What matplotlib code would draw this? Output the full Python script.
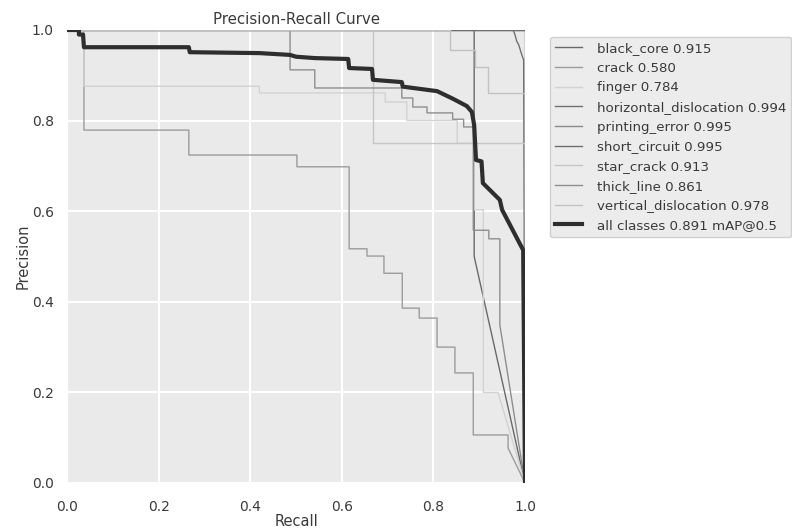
import matplotlib
matplotlib.use("Agg")
import matplotlib.pyplot as plt

# ---- data (recall / precision breakpoints) ----
class_names = ["black_core", "crack", "finger", "horizontal_dislocation",
               "printing_error", "short_circuit", "star_crack", "thick_line",
               "vertical_dislocation"]
class_ap = [0.915, 0.580, 0.784, 0.994, 0.995, 0.995, 0.913, 0.861, 0.978]

black_core_r = [0, 0.889, 0.889, 1.0]
black_core_p = [1, 1, 0.50, 0.0]

crack_r = [0, 0.037, 0.037, 0.266, 0.266, 0.502, 0.502, 0.616, 0.616, 0.655, 0.655,
           0.692, 0.692, 0.732, 0.732, 0.769, 0.769, 0.808, 0.808, 0.847, 0.847,
           0.887, 0.887, 0.963, 0.963, 1.0]
crack_p = [1, 1, 0.779, 0.779, 0.724, 0.724, 0.698, 0.698, 0.517, 0.517, 0.501,
           0.501, 0.463, 0.463, 0.386, 0.386, 0.364, 0.364, 0.300, 0.300, 0.243,
           0.243, 0.106, 0.106, 0.077, 0.0]

finger_r = [0, 0.037, 0.037, 0.42, 0.42, 0.695, 0.695, 0.742, 0.742, 0.852, 0.852,
            0.889, 0.889, 0.909, 0.909, 0.941, 1.0]
finger_p = [1, 1, 0.876, 0.876, 0.861, 0.861, 0.841, 0.841, 0.80, 0.80, 0.75,
            0.75, 0.603, 0.603, 0.20, 0.20, 0.0]

horizontal_dislocation_r = [0, 0.974, 0.978, 0.982, 0.986, 0.990, 0.994, 0.997, 1.0]
horizontal_dislocation_p = [1, 1, 0.99, 0.975, 0.968, 0.955, 0.942, 0.934, 0.0]

printing_error_r = [0, 1.0, 1.0]
printing_error_p = [1, 1, 0.0]

short_circuit_r = [0, 1.0, 1.0]
short_circuit_p = [1, 1, 0.0]

star_crack_r = [0, 0.668, 0.668, 1.0, 1.0]
star_crack_p = [1, 1, 0.751, 0.751, 0.0]

thick_line_r = [0, 0.487, 0.487, 0.541, 0.541, 0.731, 0.731, 0.755, 0.755, 0.786,
                0.786, 0.842, 0.842, 0.866, 0.866, 0.887, 0.887, 0.921, 0.921,
                0.945, 0.945, 1.0]
thick_line_p = [1, 1, 0.912, 0.912, 0.872, 0.872, 0.85, 0.85, 0.83, 0.83, 0.817,
                0.817, 0.803, 0.803, 0.786, 0.786, 0.558, 0.558, 0.539, 0.539,
                0.349, 0.0]

vertical_dislocation_r = [0, 0.836, 0.836, 0.89, 0.89, 0.919, 0.919, 1.0, 1.0]
vertical_dislocation_p = [1, 1, 0.956, 0.956, 0.918, 0.918, 0.861, 0.861, 0.0]

all_r = [0, 0.026, 0.026, 0.035, 0.037, 0.266, 0.268, 0.42, 0.487, 0.50, 0.541,
         0.614, 0.616, 0.666, 0.668, 0.731, 0.733, 0.808, 0.843, 0.873, 0.884,
         0.889, 0.893, 0.905, 0.908, 0.917, 0.945, 0.95, 0.996, 1.0]
all_p = [1, 1, 0.99, 0.99, 0.962, 0.962, 0.951, 0.949, 0.945, 0.941, 0.938,
         0.936, 0.916, 0.914, 0.89, 0.885, 0.875, 0.865, 0.848, 0.832, 0.819,
         0.79, 0.713, 0.71, 0.662, 0.653, 0.625, 0.603, 0.514, 0.0]
all_map = 0.891

class_r = [black_core_r, crack_r, finger_r, horizontal_dislocation_r, printing_error_r,
           short_circuit_r, star_crack_r, thick_line_r, vertical_dislocation_r]
class_p = [black_core_p, crack_p, finger_p, horizontal_dislocation_p, printing_error_p,
           short_circuit_p, star_crack_p, thick_line_p, vertical_dislocation_p]

# ---- style ----
class_colors = ["#6a6a6a", "#9c9c9c", "#d2d2d2", "#717171", "#8a8a8a",
                "#6e6e6e", "#c6c6c6", "#8e8e8e", "#c2c2c2"]
all_color = "#2e2e2e"
text_color = "#3a3a3a"

plt.rcParams["font.family"] = ["DejaVu Sans"]

fig = plt.figure(figsize=(7.92, 5.30), dpi=100)
ax = fig.add_axes([0.0846, 0.0887, 0.5783, 0.8547])
ax.set_facecolor("#eaeaea")
for s in ax.spines.values():
    s.set_visible(False)
ax.grid(True, color="white", linewidth=1.4)
ax.set_axisbelow(True)

for name, ap, r, p, c in zip(class_names, class_ap, class_r, class_p, class_colors):
    ax.plot(r, p, linewidth=1.0, color=c, label=f"{name} {ap:.3f}")
ax.plot(all_r, all_p, linewidth=3, color=all_color,
        label=f"all classes {all_map:.3f} mAP@0.5")

ax.set_xlim(0, 1)
ax.set_ylim(0, 1)
ax.set_xticks([0, 0.2, 0.4, 0.6, 0.8, 1.0])
ax.set_yticks([0, 0.2, 0.4, 0.6, 0.8, 1.0])
ax.tick_params(axis="x", length=0, labelsize=10, colors=text_color, pad=12)
ax.tick_params(axis="y", length=0, labelsize=10, colors=text_color, pad=9.5)
ax.set_xlabel("Recall", fontsize=10.5, color=text_color, labelpad=0.5)
ax.set_ylabel("Precision", fontsize=10.5, color=text_color, labelpad=1.0)
ax.set_title("Precision-Recall Curve", fontsize=10.8, color=text_color, pad=4)

leg = ax.legend(bbox_to_anchor=(1.04, 1), loc="upper left", fontsize=9.6,
                frameon=True, facecolor="#ececec", edgecolor="#d0d0d0",
                framealpha=1.0, fancybox=True, handletextpad=1.1,
                labelspacing=0.5)
for t in leg.get_texts():
    t.set_color(text_color)

fig.savefig("out.png", dpi=100)
